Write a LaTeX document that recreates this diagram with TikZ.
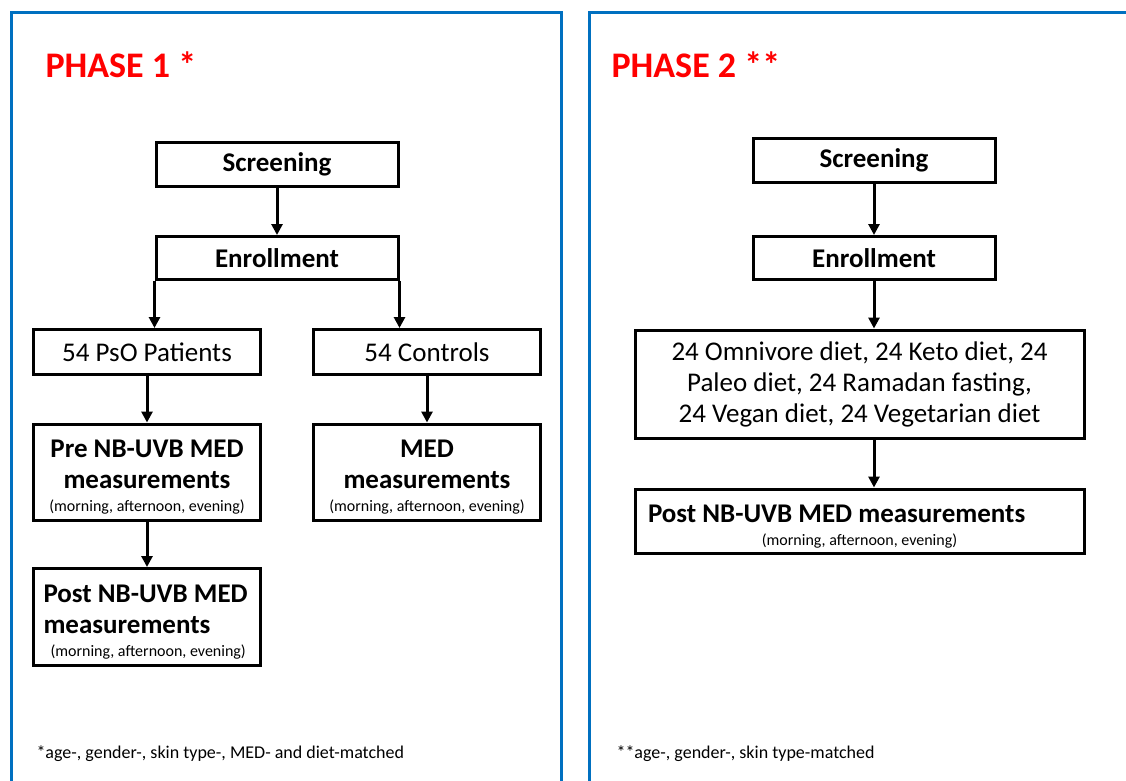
\documentclass[tikz,border=0pt]{standalone}
\usepackage{fontspec}
\setmainfont{Carlito}
\usetikzlibrary{arrows.meta}

\definecolor{panelblue}{RGB}{0,112,192}
\definecolor{phasered}{RGB}{255,0,0}

\newcommand{\boldtxt}{\fontsize{27}{31}\selectfont\bfseries}
\newcommand{\regtxt}{\fontsize{27}{31}\selectfont}
\newcommand{\smalltxt}{\fontsize{16}{20}\selectfont\mdseries}
\newcommand{\topstrut}{\rule{0pt}{28pt}}

\begin{document}
\begin{tikzpicture}[x=1pt, y=-1pt,
	box/.style = {draw, line width=3pt, inner sep=0pt, align=center},
	arr/.style = {-{Triangle[length=11pt, width=11pt]}, line width=3pt},
	panel/.style = {draw=panelblue, line width=3pt},
	title/.style = {text=phasered, anchor=base west, font=\fontsize{36}{40}\selectfont\bfseries},
	foot/.style = {anchor=base west, font=\fontsize{18}{20}\selectfont}]
	
	\useasboundingbox (0,0) rectangle (1126,780);
	\clip (0,0) rectangle (1126,780);
	
	% the two panels
	\draw[panel] (11,830) -- (11,12) -- (561,12) -- (561,830);
	\draw[panel] (589,830) -- (589,12) -- (1160,12) -- (1160,830);
	
	\node[title] (ph1) at (42,77) {PHASE 1 *};
	\node[title] (ph2) at (608,77) {PHASE 2 **};
	
	% phase 1
	\node[box, minimum width=242pt, minimum height=44pt, font=\boldtxt] (screen1) at (277,164) {Screening};
	\node[box, minimum width=242pt, minimum height=43pt, font=\boldtxt] (enrol1) at (277,258) {Enrollment};
	\node[box, minimum width=227pt, minimum height=45pt, font=\regtxt] (pso) at (147,352) {54 PsO Patients};
	\node[box, minimum width=227pt, minimum height=45pt, font=\regtxt] (ctrl) at (427,352) {54 Controls};
	\node[box, minimum width=227pt, minimum height=96pt, font=\boldtxt] (pre) at (147,472)
		{\topstrut Pre NB-UVB MED\\measurements\\[-8pt]\smalltxt (morning, afternoon, evening)};
	\node[box, minimum width=227pt, minimum height=96pt, font=\boldtxt] (med) at (427,472)
		{\topstrut MED\\measurements\\[-8pt]\smalltxt (morning, afternoon, evening)};
	\node[box, minimum height=97pt, text width=213pt, inner xsep=7pt, align=flush left, font=\boldtxt] (post1) at (147,617)
		{\topstrut\hspace*{3pt}Post NB-UVB MED\\\hspace*{3pt}measurements\\[-8pt]\smalltxt\hspace*{10pt}(morning, afternoon, evening)};
	
	\draw[arr] (screen1) -- (enrol1);
	\draw[arr] (enrol1.south west) -- (enrol1.south west |- pso.north);
	\draw[arr] (enrol1.south east) -- (enrol1.south east |- ctrl.north);
	\draw[arr] (pso) -- (pre);
	\draw[arr] (ctrl) -- (med);
	\draw[arr] (pre) -- (post1);
	
	% phase 2
	\node[box, minimum width=242pt, minimum height=44pt, font=\boldtxt] (screen2) at (874,160) {Screening};
	\node[box, minimum width=242pt, minimum height=43pt, font=\boldtxt] (enrol2) at (874,258) {Enrollment};
	\node[box, minimum width=449pt, minimum height=108pt, font=\regtxt] (diets) at (859.5,384)
		{24 Omnivore diet, 24 Keto diet, 24\\Paleo diet, 24 Ramadan fasting,\\24 Vegan diet, 24 Vegetarian diet};
	\node[box, minimum height=64pt, text width=431pt, inner xsep=9pt, align=flush left, font=\boldtxt] (post2) at (859.5,521)
		{\topstrut\hspace*{4pt}Post NB-UVB MED measurements\\[-8pt]\smalltxt\makebox[431pt][c]{(morning, afternoon, evening)}};
	
	\draw[arr] (screen2) -- (enrol2);
	\draw[arr] (enrol2) -- (enrol2 |- diets.north);
	\draw[arr] (enrol2 |- diets.south) -- (enrol2 |- post2.north);
	
	% footnotes
	\node[foot] (fn1) at (33,758) {*age-, gender-, skin type-, MED- and diet-matched};
	\node[foot] (fn2) at (613,758) {**age-, gender-, skin type-matched};
	
\end{tikzpicture}
\end{document}
